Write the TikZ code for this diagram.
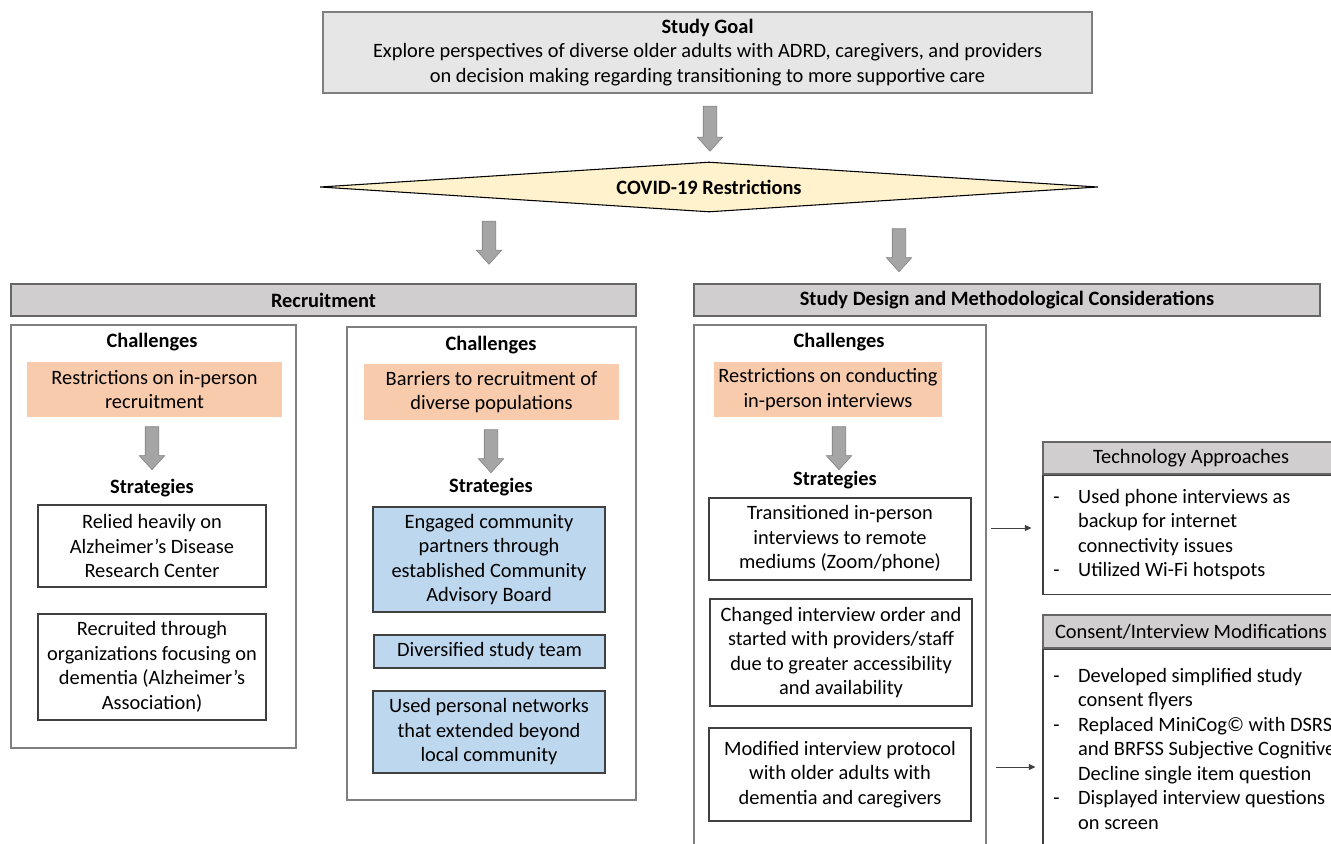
\documentclass[tikz,border=0pt]{standalone}
\usepackage{fontspec}
\setmainfont{Carlito}
\usepackage{tikz}
\usetikzlibrary{positioning,shapes.geometric,shapes.arrows,arrows.meta}

\newcommand{\pxu}{0.75pt}
\definecolor{goalgray}{HTML}{E7E6E6}
\definecolor{headgray}{HTML}{D0CECE}
\definecolor{covidyellow}{HTML}{FFF2CC}
\definecolor{challorange}{HTML}{F8CBAD}
\definecolor{stratblue}{HTML}{BDD7EE}
\definecolor{arrowgray}{HTML}{A5A5A5}
\definecolor{edgegray}{HTML}{7F7F7F}
\definecolor{darkedge}{HTML}{404040}

\begin{document}
\begin{tikzpicture}
[x=0.75pt, y=-0.75pt,
every node/.style={font=\fontsize{15.3}{18.4}\selectfont, inner sep=0pt, align=center},
goalbox/.style={rectangle, draw=edgegray, fill=goalgray, line width=0.8pt},
covidnode/.style={diamond, draw=black, fill=covidyellow, line width=0.8pt, aspect=15.5},
headbox/.style={rectangle, draw=darkedge!80, fill=headgray, line width=0.8pt},
framebox/.style={rectangle, draw=edgegray, line width=0.8pt},
challbox/.style={rectangle, fill=challorange},
stratbox/.style={rectangle, draw=darkedge, line width=0.8pt},
bluebox/.style={rectangle, draw=darkedge, fill=stratblue, line width=0.8pt},
blockarrow/.style={single arrow, shape border rotate=270, draw=edgegray, fill=arrowgray,
  inner sep=6.5*\pxu, minimum width=25*\pxu, single arrow head extend=6*\pxu,
  single arrow tip angle=84},
thinarrow/.style={-{Triangle[length=5pt,width=4.5pt]}, line width=0.6pt, draw=darkedge},
]
\useasboundingbox (0,0) rectangle (1331,843);

% top of the chart
\node[goalbox, minimum width=769*\pxu, minimum height=81*\pxu] (goal) at (707.5,52.5)
  {\textbf{Study Goal}\\Explore perspectives of diverse older adults with ADRD, caregivers, and providers\\on decision making regarding transitioning to more supportive care};
\node[blockarrow, minimum height=45*\pxu] (a1) at (710,125) {};
\node[covidnode, minimum width=778*\pxu, minimum height=50*\pxu] (covid) at (709,187) {\textbf{COVID-19 Restrictions}};
\node[blockarrow, minimum height=43*\pxu] (a2) at (489,239) {};
\node[blockarrow, minimum height=43*\pxu] (a3) at (899,246.5) {};

% headers
\node[headbox, minimum width=625*\pxu, minimum height=32*\pxu] (rechead) at (323.5,300) {\textbf{Recruitment}};
\node[headbox, minimum width=626*\pxu, minimum height=32*\pxu] (deshead) at (1007,300) {\textbf{Study Design and Methodological Considerations}};

% recruitment, first column
\node[framebox, minimum width=285*\pxu, minimum height=423*\pxu] (recframeA) at (153.5,536.5) {};
\node (challA) at (152,342) {\textbf{Challenges}};
\node[challbox, minimum width=255*\pxu, minimum height=55*\pxu] (restrA) at (154.5,389.5) {Restrictions on in-person\\recruitment};
\node[blockarrow, minimum height=43*\pxu] (a4) at (152,444.5) {};
\node (stratA) at (152,488) {\textbf{Strategies}};
\node[stratbox, minimum width=228*\pxu, minimum height=82*\pxu] (relied) at (152,546) {Relied heavily on\\Alzheimer’s Disease\\Research Center};
\node[stratbox, minimum width=228*\pxu, minimum height=106*\pxu] (recruited) at (152,667) {Recruited through\\organizations focusing on\\dementia (Alzheimer’s\\Association)};

% recruitment, second column
\node[framebox, minimum width=289*\pxu, minimum height=473*\pxu] (recframeB) at (491.5,563.5) {};
\node (challB) at (491,345) {\textbf{Challenges}};
\node[challbox, minimum width=255*\pxu, minimum height=56*\pxu] (barriers) at (491.5,392) {Barriers to recruitment of\\diverse populations};
\node[blockarrow, minimum height=43*\pxu] (a5) at (491,447.5) {};
\node (stratB) at (491,487) {\textbf{Strategies}};
\node[bluebox, minimum width=232*\pxu, minimum height=105*\pxu] (engaged) at (489,559.5) {Engaged community\\partners through\\established Community\\Advisory Board};
\node[bluebox, minimum width=231*\pxu, minimum height=33*\pxu] (diversified) at (489.5,651.5) {Diversified study team};
\node[bluebox, minimum width=232*\pxu, minimum height=82*\pxu] (networks) at (489,732) {Used personal networks\\that extended beyond\\local community};

% study design column
\node[framebox, minimum width=292*\pxu, minimum height=575*\pxu] (desframe) at (840,612.5) {};
\node (challC) at (839,342) {\textbf{Challenges}};
\node[challbox, minimum width=228*\pxu, minimum height=55*\pxu] (conducting) at (828,389.5) {Restrictions on conducting\\in-person interviews};
\node[blockarrow, minimum height=43*\pxu] (a6) at (839,444.5) {};
\node (stratC) at (835,480) {\textbf{Strategies}};
\node[stratbox, minimum width=262*\pxu, minimum height=82*\pxu] (remote) at (840,539) {Transitioned in-person\\interviews to remote\\mediums (Zoom/phone)};
\node[stratbox, minimum width=262*\pxu, minimum height=107*\pxu] (order) at (841,652.5) {Changed interview order and\\started with providers/staff\\due to greater accessibility\\and availability};
\node[stratbox, minimum width=262*\pxu, minimum height=93*\pxu] (protocol) at (840,774.5) {Modified interview protocol\\with older adults with\\dementia and caregivers};

% side boxes
\node[headbox, minimum width=296*\pxu, minimum height=32*\pxu] (techhead) at (1191,458) {Technology Approaches};
\node[framebox, draw=darkedge, minimum width=296*\pxu, minimum height=119*\pxu, below=0pt of techhead] (techbody) {};
\node[anchor=base west] (techlist) at (1053,503) {\begin{tabular}[t]{@{}l@{\hspace{14pt}}l@{}}
-&Used phone interviews as\\ &backup for internet\\ &connectivity issues\\
-&Utilized Wi-Fi hotspots\end{tabular}};

\node[headbox, minimum width=296*\pxu, minimum height=33*\pxu] (conshead) at (1191,631.5) {Consent/Interview Modifications};
\node[framebox, draw=darkedge, minimum width=296*\pxu, minimum height=252*\pxu, below=0pt of conshead] (consbody) {};
\node[anchor=base west] (conslist) at (1053,682) {\begin{tabular}[t]{@{}l@{\hspace{14pt}}l@{}}
-&Developed simplified study\\ &consent flyers\\
-&Replaced MiniCog© with DSRS\\ &and BRFSS Subjective Cognitive\\ &Decline single item question\\
-&Displayed interview questions\\ &on screen\end{tabular}};

% small connectors
\coordinate (t1) at (991,528);
\coordinate (t2) at (996,767);
\draw[thinarrow, shorten >=11*\pxu] (t1) -- (t1 -| techbody.west);
\draw[thinarrow, shorten >=7*\pxu] (t2) -- (t2 -| consbody.west);
\end{tikzpicture}
\end{document}
